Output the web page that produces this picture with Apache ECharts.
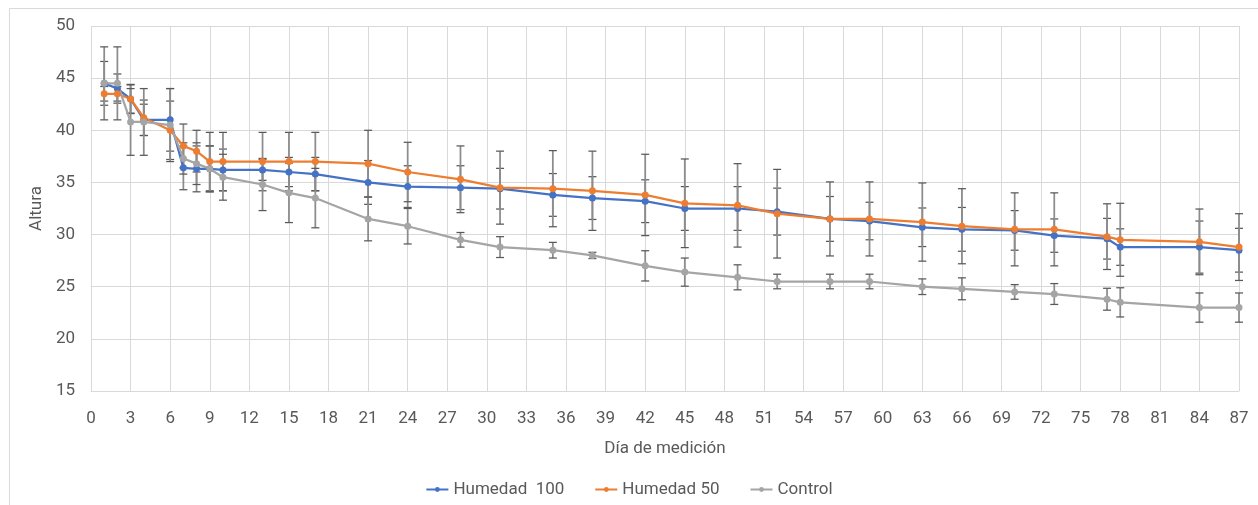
<!DOCTYPE html>
<html>
<head>
<meta charset="utf-8">
<script src="https://cdn.jsdelivr.net/npm/echarts@6/dist/echarts.min.js"></script>
<style>
html, body { margin: 0; padding: 0; background: #fff; }
#chart { width: 1258px; height: 505px; }
</style>
</head>
<body>
<div id="chart"></div>
<script>
// dias de medicion (comunes a las tres series)
var days = [1, 2, 3, 4, 6, 7, 8, 9, 10, 13, 15, 17, 21, 24, 28, 31, 35, 38, 42, 45, 49, 52, 56, 59, 63, 66, 70, 73, 77, 78, 84, 87];

var humedad100 = [44.5, 44.0, 43.0, 41.0, 41.0, 36.4, 36.3, 36.3, 36.2, 36.2, 36.0, 35.8, 35.0, 34.6, 34.5, 34.4, 33.8, 33.5, 33.2, 32.5, 32.5, 32.2, 31.5, 31.3, 30.7, 30.5, 30.4, 29.9, 29.6, 28.8, 28.8, 28.5];
var humedad100Err = [2.1, 1.4, 1.4, 1.5, 3.0, 2.1, 2.2, 2.2, 2.0, 1.0, 1.4, 1.6, 2.1, 2.0, 2.1, 1.95, 2.05, 2.05, 2.05, 2.1, 2.1, 2.25, 2.15, 1.8, 1.85, 2.1, 1.9, 1.6, 1.95, 1.75, 2.5, 2.1];

var humedad50 = [43.5, 43.5, 43.0, 41.2, 40.0, 38.5, 38.0, 37.0, 37.0, 37.0, 37.0, 37.0, 36.8, 36.0, 35.3, 34.5, 34.4, 34.2, 33.8, 33.0, 32.8, 32.0, 31.5, 31.5, 31.2, 30.8, 30.5, 30.5, 29.8, 29.5, 29.3, 28.8];
var humedad50Err = [0.7, 0.7, 1.35, 1.7, 2.8, 2.1, 2.0, 2.8, 2.8, 2.8, 2.8, 2.8, 3.2, 2.85, 3.2, 3.5, 3.65, 3.8, 3.9, 4.25, 4.0, 4.25, 3.55, 3.55, 3.75, 3.6, 3.5, 3.5, 3.15, 3.5, 3.15, 3.2];

var control = [44.5, 44.5, 40.8, 40.8, 40.5, 37.3, 36.8, 36.3, 35.5, 34.8, 34.0, 33.5, 31.5, 30.8, 29.5, 28.8, 28.5, 28.0, 27.0, 26.4, 25.9, 25.5, 25.5, 25.5, 25.0, 24.8, 24.5, 24.3, 23.8, 23.5, 23.0, 23.0];
var controlErr = [3.5, 3.5, 3.2, 3.2, 3.5, 1.5, 2.0, 2.2, 2.2, 2.5, 2.85, 2.85, 2.1, 1.7, 0.7, 1.0, 0.75, 0.3, 1.45, 1.35, 1.2, 0.7, 0.7, 0.7, 0.75, 1.05, 0.7, 1.0, 1.05, 1.4, 1.4, 1.4];

var seriesNames = ['Humedad  100', 'Humedad 50', 'Control'];
var seriesColors = ['#4472C4', '#ED7D31', '#A5A5A5'];

var fontFam = 'Roboto, "Liberation Sans", sans-serif';

function pairs(vals) {
	return days.map(function (d, i) { return [d, vals[i]]; });
}

function triples(vals, errs) {
	return days.map(function (d, i) { return [d, vals[i], errs[i]]; });
}

// barra de error vertical con remates
function renderErr(params, api) {
	var x = api.value(0), y = api.value(1), e = api.value(2);
	var top = api.coord([x, y + e]);
	var bot = api.coord([x, y - e]);
	var w = 4;
	return {
		type: 'group',
		children: [
			{ type: 'line', shape: { x1: top[0], y1: top[1], x2: bot[0], y2: bot[1] }, style: { stroke: '#8c8c8c', lineWidth: 1.75 } },
			{ type: 'line', shape: { x1: top[0] - w, y1: top[1], x2: top[0] + w, y2: top[1] }, style: { stroke: '#595959', lineWidth: 1.25 } },
			{ type: 'line', shape: { x1: bot[0] - w, y1: bot[1], x2: bot[0] + w, y2: bot[1] }, style: { stroke: '#595959', lineWidth: 1.25 } }
		]
	};
}

function errSeries(name, vals, errs) {
	return {
		name: name,
		type: 'custom',
		renderItem: renderErr,
		data: triples(vals, errs),
		encode: { x: 0, y: 1 },
		z: 1,
		silent: true
	};
}

function lineSeries(idx, vals) {
	return {
		name: seriesNames[idx],
		type: 'line',
		data: pairs(vals),
		symbol: 'circle',
		symbolSize: 7,
		color: seriesColors[idx],
		lineStyle: { width: 2.25, color: seriesColors[idx] },
		itemStyle: { color: seriesColors[idx] },
		z: 3
	};
}

var mychart = echarts.init(document.getElementById('chart'));
var option = {
	animation: false,
	textStyle: { fontFamily: fontFam },
	graphic: [{
		type: 'rect',
		shape: { x: 9.5, y: 8.5, width: 1300, height: 600 },
		style: { fill: null, stroke: '#d9d9d9', lineWidth: 1 },
		silent: true
	}],
	grid: { left: 91, right: 19, top: 26, bottom: 114 },
	legend: {
		data: seriesNames,
		top: 476,
		left: 'center',
		itemGap: 30,
		itemWidth: 22,
		itemHeight: 6,
		textStyle: { color: '#595959', fontSize: 17, fontFamily: fontFam }
	},
	xAxis: {
		type: 'value',
		min: 0,
		max: 87,
		interval: 3,
		name: 'Día de medición',
		nameLocation: 'middle',
		nameGap: 49,
		nameTextStyle: { color: '#595959', fontSize: 17, fontFamily: fontFam },
		axisLine: { show: true, lineStyle: { color: '#d9d9d9', width: 1 } },
		axisTick: { show: false },
		axisLabel: { color: '#595959', fontSize: 17, margin: 19, fontFamily: fontFam },
		splitLine: { show: true, lineStyle: { color: '#d9d9d9', width: 1 } }
	},
	yAxis: {
		type: 'value',
		min: 15,
		max: 50,
		interval: 5,
		name: 'Altura',
		nameLocation: 'middle',
		nameGap: 44,
		nameTextStyle: { color: '#595959', fontSize: 17, fontFamily: fontFam },
		axisLine: { show: false },
		axisTick: { show: false },
		axisLabel: { color: '#595959', fontSize: 17, margin: 16, fontFamily: fontFam },
		splitLine: { show: true, lineStyle: { color: '#d9d9d9', width: 1 } }
	},
	series: [
		errSeries('err100', humedad100, humedad100Err),
		errSeries('err50', humedad50, humedad50Err),
		errSeries('errControl', control, controlErr),
		lineSeries(0, humedad100),
		lineSeries(1, humedad50),
		lineSeries(2, control)
	]
};
mychart.setOption(option);
</script>
</body>
</html>
